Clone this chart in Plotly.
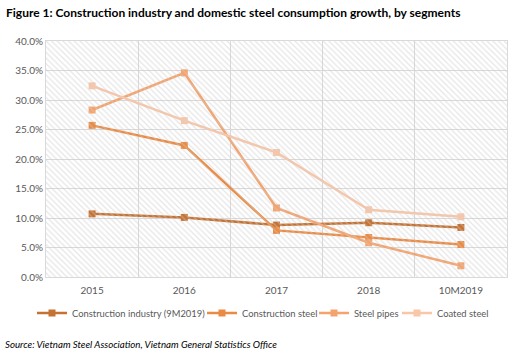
import plotly.graph_objects as go

categories = ["2015", "2016", "2017", "2018", "10M2019"]
construction_industry = [10.7, 10.1, 8.8, 9.2, 8.4]
construction_steel = [25.7, 22.3, 7.9, 6.7, 5.5]
steel_pipes = [28.3, 34.6, 11.7, 5.8, 1.9]
coated_steel = [32.4, 26.5, 21.1, 11.4, 10.2]
y_ticks = [0, 5, 10, 15, 20, 25, 30, 35, 40]

series = [
    ("Construction industry (9M2019)", construction_industry, "#c57232"),
    ("Construction steel", construction_steel, "#eb8a42"),
    ("Steel pipes", steel_pipes, "#f5a36d"),
    ("Coated steel", coated_steel, "#f9c6a8"),
]
# legend item left edges in pixels (layout only)
legend_px = [38, 208, 320, 403]

FONT = "Lato"
W, H = 515, 355
L, R, T, B = 46, 8, 41, 78
PW, PH = W - L - R, H - T - B

fig = go.Figure()

# hatched plot-area background
fig.add_trace(go.Scatter(
    x=[0, 1, 1, 0, 0], y=[0, 0, 1, 1, 0], xaxis="x2", yaxis="y2",
    mode="none", fill="toself", fillcolor="rgba(0,0,0,0)",
    fillpattern=dict(shape="\\", fgcolor="#cccccc", bgcolor="rgba(0,0,0,0)",
                     size=4, solidity=0.3),
    showlegend=False, hoverinfo="skip"))

legend_names = ["legend", "legend2", "legend3", "legend4"]
for (name, vals, col), lg in zip(series, legend_names):
    fig.add_trace(go.Scatter(
        x=categories, y=vals, name=name, mode="lines+markers",
        line=dict(color=col, width=2.5),
        marker=dict(symbol="square", size=7, color=col),
        legend=lg))

legend_y = -(313 - (H - B)) / PH
layout_legends = {}
for lg, px in zip(legend_names, legend_px):
    layout_legends[lg] = dict(
        orientation="h", x=(px - 6 - L) / PW, xanchor="left",
        y=legend_y, yanchor="middle", itemwidth=30,
        font=dict(size=9.4, color="#595959", family=FONT),
        bgcolor="rgba(0,0,0,0)", borderwidth=0, tracegroupgap=0)

fig.update_layout(
    width=W, height=H,
    margin=dict(l=L, r=R, t=T, b=B, autoexpand=False),
    paper_bgcolor="white", plot_bgcolor="white",
    font=dict(family=FONT, color="#595959", size=10),
    xaxis=dict(type="category", range=[-0.5, 4.5], tickson="boundaries",
               showgrid=True, gridcolor="#d9d9d9", gridwidth=1,
               showline=True, linecolor="#d9d9d9", mirror=True,
               ticks="", ticklabelstandoff=4,
               tickfont=dict(size=10, color="#595959")),
    yaxis=dict(range=[0, 40], tickvals=y_ticks,
               ticktext=[f"{v:.1f}%" for v in y_ticks],
               showgrid=True, gridcolor="#d9d9d9", gridwidth=1,
               showline=True, linecolor="#d9d9d9", mirror=True,
               zeroline=False, ticks="", tickfont=dict(size=10, color="#595959")),
    xaxis2=dict(overlaying="x", range=[0, 1], visible=False),
    yaxis2=dict(overlaying="y", range=[0, 1], visible=False),
    showlegend=True,
    hovermode=False,
    **layout_legends,
)

fig.add_annotation(text="<b>Figure 1: Construction industry and domestic steel consumption growth, by segments</b>",
                   xref="paper", yref="paper", x=-(L - 4) / PW, y=1 + (T - 12) / PH,
                   xanchor="left", yanchor="middle",
                   showarrow=False, font=dict(family=FONT, size=12, color="#000000"))
fig.add_annotation(text="<i>Source: Vietnam Steel Association, Vietnam General Statistics Office</i>",
                   xref="paper", yref="paper", x=-(L - 3) / PW, y=-(344 - (H - B)) / PH,
                   xanchor="left", yanchor="middle",
                   showarrow=False, font=dict(family=FONT, size=9.7, color="#000000"))

fig.write_html("out.html", config={"displayModeBar": False},
               post_script="document.body.style.margin='0px';document.body.style.overflow='hidden';")
